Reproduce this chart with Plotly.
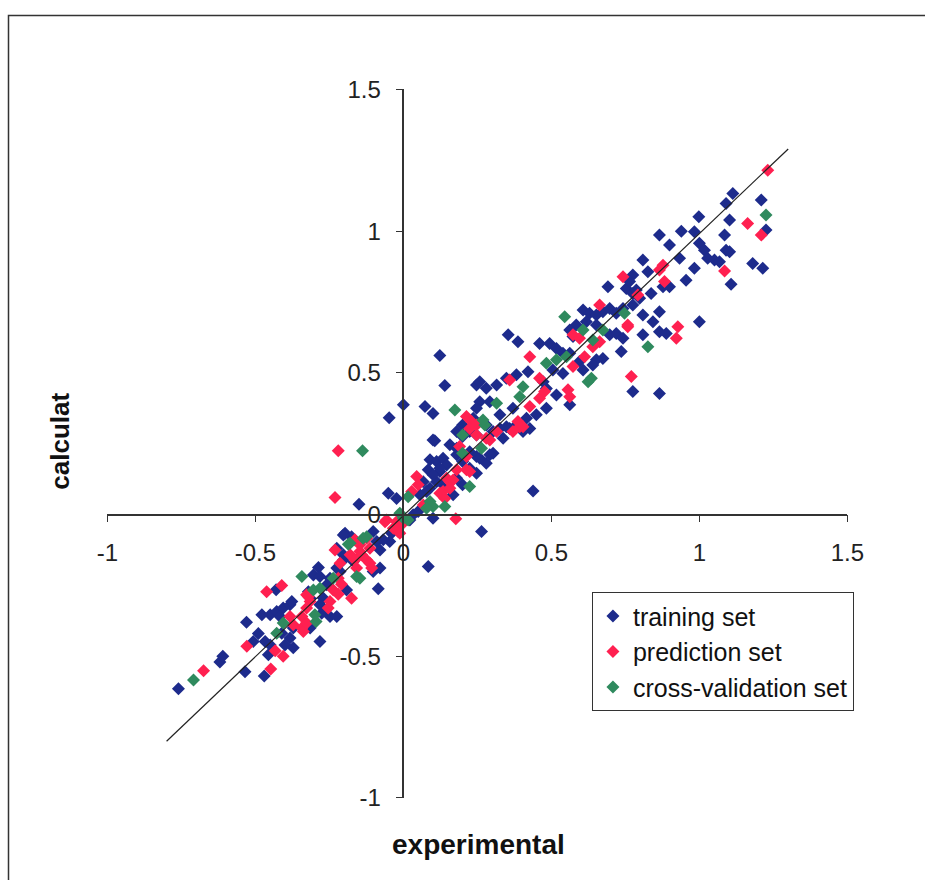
import plotly.graph_objects as go

# ---------------- data ----------------
train_x = [-0.76, -0.62, -0.61, -0.535, -0.53, -0.47, -0.467, -0.478, -0.45, -0.428, -0.406, -0.383, -0.43,
           -0.287, -0.304, -0.282, -0.411, -0.383, -0.40, -0.456, -0.27, -0.49, -0.507, -0.45, -0.377, -0.417,
           -0.372, -0.372, -0.315, -0.282, -0.276, -0.248, -0.225, -0.321, -0.315, -0.248, -0.259, -0.192,
           -0.282, -0.203, -0.214, -0.102, -0.085, -0.197, -0.175, -0.09, -0.079, -0.04, -0.046, -0.15,
           -0.203, -0.225, -0.203, -0.169, -0.225, -0.068, -0.102, -0.079, 0.084, 0.022, 0.033, 0.05, 0.10,
           0.264, 0.438, -0.051, -0.023, 0.0, 0.073, 0.10, -0.048, 0.123, 0.14, 0.247, 0.258, 0.28, 0.315,
           0.106, 0.18, 0.20, 0.247, 0.157, 0.18, 0.196, 0.224, 0.247, 0.09, 0.112, 0.134, 0.146, 0.084,
           0.123, 0.112, 0.09, 0.18, 0.20, 0.067, 0.078, 0.056, 0.10, 0.20, 0.224, 0.28, 0.303, 0.326, 0.348,
           0.382, 0.404, 0.427, 0.18, 0.20, 0.224, 0.28, 0.258, 0.303, 0.123, 0.10, 0.134, 0.168, 0.691,
           0.753, 0.775, 0.674, 0.697, 0.719, 0.742, 0.775, 0.607, 0.629, 0.652, 0.618, 0.652, 0.584, 0.562,
           0.573, 0.697, 0.719, 0.742, 0.354, 0.387, 0.46, 0.494, 0.517, 0.539, 0.562, 0.736, 0.674, 0.652,
           0.505, 0.539, 0.595, 0.607, 0.64, 0.775, 0.562, 0.517, 0.483, 0.472, 0.348, 0.382, 0.421, 0.258,
           0.247, 0.292, 0.326, 0.37, 0.416, 0.449, 0.483, 0.236, 0.359, 0.337, 0.292, 0.247, 1.113, 1.09,
           1.209, 1.225, 0.998, 1.102, 0.865, 0.939, 0.983, 1.085, 0.899, 1.0, 1.017, 1.09, 1.102, 1.028,
           1.051, 1.068, 0.933, 1.18, 1.214, 0.983, 1.107, 0.955, 0.809, 0.826, 0.775, 0.764, 0.877, 0.899,
           0.837, 0.787, 0.798, 0.809, 0.865, 0.843, 0.865, 0.888, 1.0, 0.809, 0.865]
train_y = [-0.615, -0.52, -0.50, -0.555, -0.38, -0.57, -0.448, -0.354, -0.354, -0.342, -0.33, -0.318, -0.265,
           -0.187, -0.213, -0.448, -0.419, -0.436, -0.46, -0.495, -0.295, -0.42, -0.448, -0.46, -0.307, -0.36,
           -0.40, -0.47, -0.40, -0.318, -0.348, -0.36, -0.36, -0.272, -0.295, -0.225, -0.248, -0.266,
           -0.219, -0.16, -0.201, -0.201, -0.262, -0.066, -0.078, -0.095, -0.125, -0.066, -0.095, 0.036,
           -0.072, -0.119, -0.142, -0.166, -0.189, -0.089, -0.06, -0.189, -0.183, -0.019, -0.001, 0.011, -0.013,
           -0.06, 0.083, 0.075, 0.057, 0.387, 0.381, 0.357, 0.342, 0.561, 0.455, 0.457, 0.469, 0.446, 0.457,
           0.26, 0.293, 0.275, 0.281, 0.246, 0.234, 0.216, 0.222, 0.205, 0.193, 0.187, 0.199, 0.175, 0.158,
           0.152, 0.116, 0.093, 0.128, 0.105, 0.116, 0.081, 0.07, 0.263, 0.316, 0.293, 0.316, 0.293, 0.304, 0.31,
           0.316, 0.293, 0.304, 0.211, 0.187, 0.163, 0.181, 0.199, 0.216, 0.163, 0.14, 0.105, 0.07, 0.804,
           0.798, 0.78, 0.716, 0.727, 0.71, 0.727, 0.739, 0.722, 0.71, 0.704, 0.68, 0.669, 0.669, 0.651,
           0.628, 0.634, 0.639, 0.622, 0.634, 0.61, 0.604, 0.604, 0.586, 0.569, 0.569, 0.575, 0.551, 0.546,
           0.51, 0.498, 0.54, 0.51, 0.528, 0.434, 0.387, 0.422, 0.445, 0.469, 0.481, 0.493, 0.504, 0.398,
           0.375, 0.398, 0.352, 0.375, 0.34, 0.352, 0.375, 0.34, 0.304, 0.269, 0.211, 0.146, 1.133, 1.098,
           1.11, 1.004, 1.051, 1.039, 0.986, 1.0, 0.998, 0.986, 0.951, 0.957, 0.933, 0.933, 0.927, 0.904,
           0.898, 0.892, 0.904, 0.886, 0.869, 0.869, 0.813, 0.827, 0.898, 0.857, 0.845, 0.822, 0.804, 0.804,
           0.78, 0.792, 0.763, 0.704, 0.716, 0.68, 0.645, 0.639, 0.68, 0.634, 0.427]

pred_x = [-0.675, -0.529, -0.448, -0.462, -0.411, -0.327, -0.315, -0.343, -0.338, -0.433, -0.406, -0.057,
          -0.023, -0.012, -0.164, -0.147, -0.231, -0.18, -0.164, -0.141, -0.124, -0.113, -0.107, -0.22, -0.209,
          -0.237, -0.22, -0.175, -0.321, -0.248, -0.254, -0.327, -0.343, -0.327, -0.383, -0.372, -0.22, 0.213,
          0.23, 0.224, 0.247, 0.18, 0.213, 0.146, 0.157, 0.134, 0.14, 0.045, 0.05, 0.028, -0.231, 0.177,
          -0.023, -0.006, -0.018, -0.034, -0.062, -0.124, -0.113, -0.147, -0.158, -0.214, 0.247, 0.28, 0.315,
          0.37, 0.393, 0.19, 0.213, 0.224, 0.168, 0.157, 0.123, 0.067, 0.663, 0.758, 0.573, 0.595, 0.663,
          0.64, 0.427, 0.612, 0.573, 0.77, 0.556, 0.562, 0.359, 0.46, 0.46, 0.477, 0.427, 0.387, 0.404, 0.292,
          1.231, 1.163, 1.209, 1.085, 0.877, 0.865, 0.742, 0.882, 0.792, 0.927, 0.922, 0.758]
pred_y = [-0.551, -0.465, -0.545, -0.272, -0.25, -0.283, -0.307, -0.40, -0.413, -0.481, -0.50, -0.019,
          -0.042, -0.066, -0.089, -0.107, -0.125, -0.142, -0.16, -0.142, -0.16, -0.172, -0.189, -0.225, -0.246,
          -0.266, -0.281, -0.295, -0.289, -0.307, -0.33, -0.33, -0.36, -0.383, -0.36, -0.389, 0.225, 0.346,
          0.328, 0.304, 0.316, 0.158, 0.158, 0.128, 0.116, 0.081, 0.057, 0.134, 0.105, 0.081, 0.06, -0.015,
          -0.025, -0.036, -0.06, -0.048, -0.025, -0.084, -0.119, -0.13, -0.189, -0.172, 0.281, 0.269, 0.293,
          0.293, 0.31, 0.24, 0.205, 0.152, 0.122, 0.093, 0.075, 0.034, 0.739, 0.669, 0.634, 0.622, 0.61,
          0.592, 0.557, 0.557, 0.522, 0.487, 0.44, 0.416, 0.475, 0.481, 0.41, 0.434, 0.381, 0.328, 0.31, 0.263,
          1.215, 1.027, 0.986, 0.859, 0.88, 0.863, 0.839, 0.822, 0.775, 0.663, 0.622, 0.663]

cv_x = [-0.709, -0.343, -0.406, -0.295, 0.016, -0.186, -0.124, -0.158, -0.147, -0.282, -0.304, -0.299,
        -0.428, 0.174, -0.138, 0.2, 0.224, 0.14, 0.016, 0.09, 0.10, 0.078, -0.012, 0.0, -0.136, -0.18,
        -0.237, 0.275, 0.264, 0.20, 0.747, 0.545, 0.607, 0.64, 0.674, 0.483, 0.517, 0.551, 0.624, 0.635,
        0.404, 0.393, 0.315, 0.269, 1.225, 0.826]
cv_y = [-0.584, -0.219, -0.383, -0.377, -0.019, -0.105, -0.078, -0.219, -0.225, -0.26, -0.266, -0.354,
        -0.419, 0.369, 0.225, 0.281, 0.099, 0.028, 0.063, 0.046, 0.028, 0.022, 0.005, -0.013, -0.084, -0.101,
        -0.225, 0.316, 0.234, 0.216, 0.71, 0.698, 0.651, 0.616, 0.651, 0.534, 0.546, 0.557, 0.469, 0.481,
        0.451, 0.416, 0.393, 0.334, 1.057, 0.592]

fit_x = [-0.8, 1.3]
fit_y = [-0.8, 1.29]

series_names = ["training set", "prediction set", "cross-validation set"]
tick_vals = [-1, -0.5, 0, 0.5, 1, 1.5]
tick_text = ["-1", "-0.5", "0", "0.5", "1", "1.5"]
x_title = "experimental"
y_title = "calculat"

# ---------------- layout geometry ----------------
W, H = 925, 880
# the photographed page shows the figure slightly reduced and offset; map target pixels back
SX, BX = 0.971, 10.5
SY, BY = 0.970, 12.5


def px(p):   # target picture x pixel -> paper x
    return ((p - BX) / SX) / W


def py(p):   # target picture y pixel (from top) -> paper y
    return 1 - ((p - BY) / SY) / H


x_range = [-1, 1.5]
y_range = [-1, 1.5]
x_dom = [px(107), px(848)]
y_dom = [py(797), py(88)]
x_zero_paper = x_dom[0] + (x_dom[1] - x_dom[0]) * (0 - x_range[0]) / (x_range[1] - x_range[0])
y_zero_paper = y_dom[0] + (y_dom[1] - y_dom[0]) * (0 - y_range[0]) / (y_range[1] - y_range[0])

FONT = "Liberation Sans, Arial, sans-serif"
colors = ["#1D2B8C", "#FF2050", "#2F8A5E"]

fig = go.Figure()
for i, (xs, ys) in enumerate([(train_x, train_y), (pred_x, pred_y), (cv_x, cv_y)]):
    fig.add_trace(go.Scatter(
        x=xs, y=ys, mode="markers", name=series_names[i],
        legendgroup=series_names[i],
        marker=dict(symbol="diamond", size=10, color=colors[i], line=dict(width=0)),
    ))
fig.add_trace(go.Scatter(x=fit_x, y=fit_y, mode="lines", showlegend=False,
                         line=dict(color="#222222", width=1.2)))

axis_common = dict(
    showgrid=False, zeroline=False, showline=True, linecolor="#333333", linewidth=1.5,
    ticks="outside", ticklen=7, tickwidth=1.2, tickcolor="#333333",
    tickvals=tick_vals, ticktext=tick_text, ticklabelstandoff=10,
    tickfont=dict(family=FONT, size=24, color="#222222"),
)
fig.update_layout(
    width=W, height=H, margin=dict(l=0, r=0, t=0, b=0),
    paper_bgcolor="white", plot_bgcolor="rgba(0,0,0,0)",
    xaxis=dict(range=x_range, domain=x_dom, anchor="free", position=y_zero_paper, **axis_common),
    yaxis=dict(range=y_range, domain=y_dom, anchor="free", position=x_zero_paper, **axis_common),
    legend=dict(x=px(592), y=py(591), xanchor="left", yanchor="top",
                bgcolor="white", bordercolor="#333333", borderwidth=1.2,
                font=dict(family=FONT, size=25, color="#111111"),
                tracegroupgap=0, itemwidth=30),
    showlegend=True,
)
fig.add_annotation(text=x_title, xref="paper", yref="paper", x=px(479), y=py(844),
                   xanchor="center", yanchor="middle", showarrow=False,
                   font=dict(family=FONT, size=28, color="#111111", weight="bold"))
fig.add_annotation(text=y_title, xref="paper", yref="paper", x=px(60), y=py(440), textangle=-90,
                   xanchor="center", yanchor="middle", showarrow=False,
                   font=dict(family=FONT, size=26, color="#111111", weight="bold"))
# chart-area frame (the scan shows its left and top edges)
fig.add_shape(type="rect", xref="paper", yref="paper", x0=px(8), x1=1.1, y0=-0.1, y1=py(14),
              line=dict(color="#333333", width=1.5), layer="below")

fig.write_html("out.html")
